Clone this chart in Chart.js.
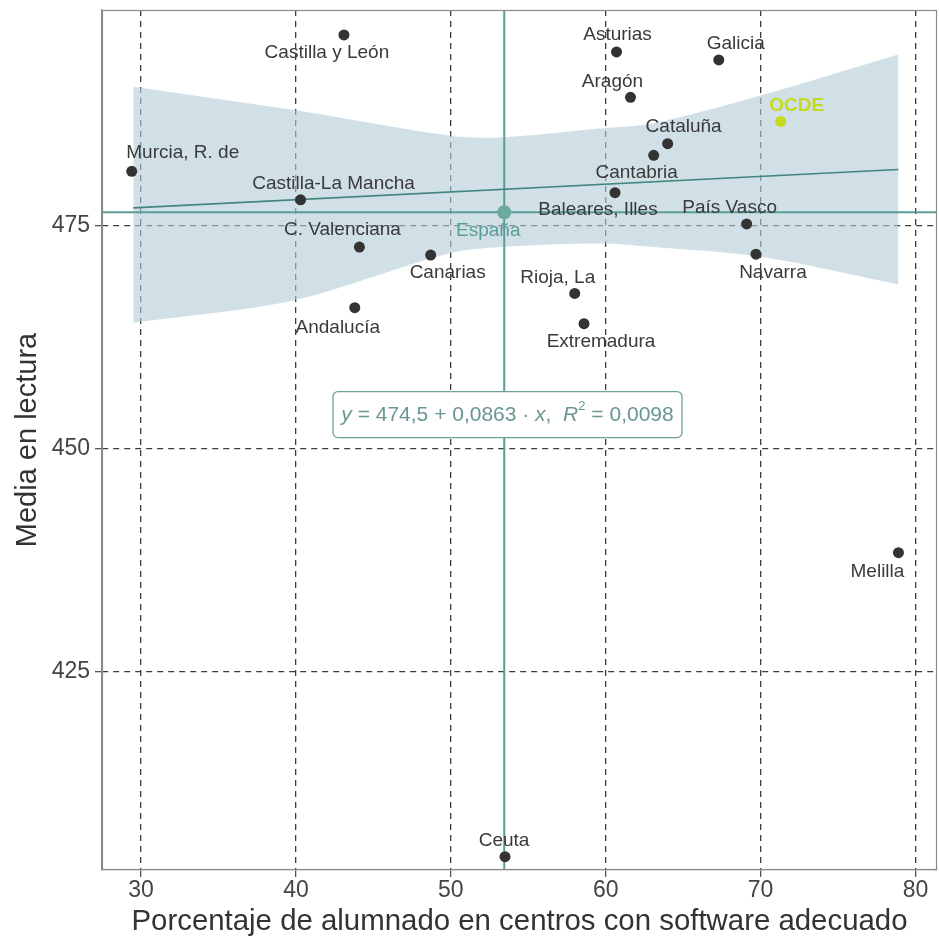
<!DOCTYPE html>
<html>
<head>
<meta charset="utf-8">
<script src="https://cdn.jsdelivr.net/npm/chart.js@4.4.1/dist/chart.umd.min.js"></script>
<style>
  html, body { margin:0; padding:0; background:#fff; }
  #wrap { width:939px; height:942px; }
</style>
</head>
<body>
<div id="wrap"><canvas id="chart" width="939" height="942"></canvas></div>
<script>
// regions of Spain: % of students in schools with adequate software vs mean reading score
const regions = ["Castilla y León","Asturias","Galicia","Aragón","Cataluña","Cantabria","Murcia, R. de",
  "Castilla-La Mancha","Baleares, Illes","País Vasco","C. Valenciana","Canarias","Navarra","Rioja, La",
  "Andalucía","Extremadura","Melilla","Ceuta"];
const softwarePct = [43.1, 60.7, 67.3, 61.6, 64.0, 63.1, 29.4, 40.3, 60.6, 69.1, 44.1, 48.7, 69.7, 58.0, 43.8, 58.6, 78.9, 53.5];
const readingMean = [496.4, 494.5, 493.6, 489.4, 484.2, 482.9, 481.1, 477.9, 478.7, 475.2, 472.6, 471.7, 471.8, 467.4, 465.8, 464.0, 438.3, 404.2];

const spainPoint = { name: "España", x: 53.45, y: 476.5 };
const oecdPoint = { name: "OCDE", x: 71.3, y: 486.7 };

// fitted line and its confidence band
const fitX = [29.5, 78.9];
const fitY = [477.0, 481.3];
const bandX = [29.5, 39.8, 49.9, 53.2, 59.6, 63.1, 70.0, 78.9];
const bandUpper = [490.6, 488.0, 485.1, 484.9, 485.9, 486.5, 489.6, 494.2];
const bandLower = [464.1, 466.6, 471.9, 472.6, 473.0, 472.6, 471.5, 468.4];

const xTicks = [30, 40, 50, 60, 70, 80];
const yTicks = [425, 450, 475];
const xRange = [27.48, 81.39];
const yRange = [402.7, 499.2];

const equationText = { intercept: "474,5", slope: "0,0863", r2: "0,0098" };

// label nudges in px (dx, dy) from each point
const labelNudge = [[-17,18],[1,-17],[17,-16],[-18,-16],[16,-17],[-17,18],[51,-19],
  [33,-16],[-17,17],[-17,-16],[-17,-17],[17,18],[17,19],[-17,-16],
  [-17,20],[17,18],[-21,19],[-1,-16]];

const TEAL = 'rgb(88,158,148)';
const FIT = 'rgb(66,134,128)';
const DARK = '#333333';
const OECD_COL = '#c5da1c';
const FONT = "'Liberation Sans', Arial, sans-serif";

function pts(xs, ys){ return xs.map((x,i) => ({x, y: ys[i]})); }
function noPad(s){ s.paddingTop = 0; s.paddingBottom = 0; s.paddingLeft = 0; s.paddingRight = 0; }

const framePlugin = {
  id: 'frame',
  afterDatasetsDraw(chart){
    const {ctx, chartArea: a} = chart;
    ctx.save();
    ctx.strokeStyle = '#8a8a8a';
    ctx.lineWidth = 1.2;
    ctx.strokeRect(a.left + 0.5, a.top + 0.5, a.right - a.left - 1, a.bottom - a.top - 1);
    ctx.restore();
  }
};

const labelPlugin = {
  id: 'pointLabels',
  afterDatasetsDraw(chart){
    const {ctx} = chart;
    const xs = chart.scales.x, ys = chart.scales.y;
    ctx.save();
    ctx.font = `19px ${FONT}`;
    ctx.textAlign = 'center';
    ctx.textBaseline = 'middle';
    regions.forEach((r,i) => {
      const px = xs.getPixelForValue(softwarePct[i]);
      const py = ys.getPixelForValue(readingMean[i]);
      ctx.fillStyle = '#3a3a3a';
      ctx.fillText(r, px + labelNudge[i][0], py + labelNudge[i][1]);
    });
    ctx.fillStyle = TEAL;
    ctx.fillText(spainPoint.name, xs.getPixelForValue(spainPoint.x) - 16, ys.getPixelForValue(spainPoint.y) + 18);
    ctx.font = `bold 19px ${FONT}`;
    ctx.fillStyle = OECD_COL;
    ctx.fillText(oecdPoint.name, xs.getPixelForValue(oecdPoint.x) + 16, ys.getPixelForValue(oecdPoint.y) - 16);
    ctx.restore();
  }
};

const equationPlugin = {
  id: 'equation',
  afterDatasetsDraw(chart){
    const {ctx} = chart;
    const cx = chart.scales.x.getPixelForValue(53.66);
    const cy = chart.scales.y.getPixelForValue(453.8);
    const parts = [
      {t: 'y', it: true}, {t: ' = ' + equationText.intercept + ' + ' + equationText.slope + ' \u00b7 '},
      {t: 'x', it: true}, {t: ',  '}, {t: 'R', it: true}, {t: '2', sup: true}, {t: ' = ' + equationText.r2}
    ];
    const size = 21;
    const fontFor = p => p.sup ? `13px ${FONT}` : `${p.it ? 'italic ' : ''}${size}px ${FONT}`;
    let w = 0;
    parts.forEach(p => { ctx.font = fontFor(p); p.w = ctx.measureText(p.t).width; w += p.w; });
    const bw = 349, bh = 46;
    ctx.save();
    ctx.beginPath();
    ctx.roundRect(cx - bw/2, cy - bh/2, bw, bh, 5);
    ctx.fillStyle = '#fff';
    ctx.fill();
    ctx.strokeStyle = 'rgb(110,160,155)';
    ctx.lineWidth = 1.3;
    ctx.stroke();
    ctx.fillStyle = 'rgb(105,150,148)';
    ctx.textBaseline = 'middle';
    ctx.textAlign = 'left';
    let x = cx - w/2;
    parts.forEach(p => {
      ctx.font = fontFor(p);
      ctx.fillText(p.t, x, p.sup ? cy - 8 : cy + 1);
      x += p.w;
    });
    ctx.restore();
  }
};

new Chart(document.getElementById('chart'), {
  type: 'scatter',
  data: {
    datasets: [
      { type: 'line', data: pts(bandX, bandUpper), borderWidth: 0, pointRadius: 0, fill: '+1',
        backgroundColor: 'rgba(176,203,214,0.6)', tension: 0.3, order: 10 },
      { type: 'line', data: pts(bandX, bandLower), borderWidth: 0, pointRadius: 0, fill: false, tension: 0.3, order: 10 },
      { type: 'line', data: pts(fitX, fitY), borderColor: FIT, borderWidth: 1.6, pointRadius: 0, fill: false, order: 5 },
      { type: 'line', data: pts([spainPoint.x, spainPoint.x], yRange), borderColor: TEAL, borderWidth: 2, pointRadius: 0, fill: false, order: 5 },
      { type: 'line', data: pts(xRange, [spainPoint.y, spainPoint.y]), borderColor: TEAL, borderWidth: 2, pointRadius: 0, fill: false, order: 5 },
      { data: pts(softwarePct, readingMean), backgroundColor: DARK, borderColor: DARK, pointRadius: 5.5, borderWidth: 0, order: 1 },
      { data: [{x: spainPoint.x, y: spainPoint.y}], backgroundColor: 'rgb(110,170,160)', pointRadius: 7, borderWidth: 0, order: 1 },
      { data: [{x: oecdPoint.x, y: oecdPoint.y}], backgroundColor: OECD_COL, pointRadius: 5.5, borderWidth: 0, order: 1 }
    ]
  },
  options: {
    responsive: false,
    animation: false,
    layout: { autoPadding: false, padding: { top: 10, right: 2, left: 0, bottom: 0 } },
    plugins: { legend: { display: false }, tooltip: { enabled: false } },
    scales: {
      x: {
        type: 'linear', min: xRange[0], max: xRange[1],
        afterBuildTicks: s => { s.ticks = xTicks.map(v => ({value: v})); },
        afterFit: s => { s.height = 72; noPad(s); },
        grid: { color: '#3c3c3c', lineWidth: 1.3, tickLength: 7, tickColor: '#555', tickWidth: 1.3 },
        border: { color: '#8a8a8a', width: 1.2, dash: [6, 5] },
        ticks: { color: '#444', font: { family: FONT, size: 23 }, padding: 0 },
        title: { display: true, text: 'Porcentaje de alumnado en centros con software adecuado',
          color: '#333', font: { family: FONT, size: 29.4, lineHeight: 1.2 }, padding: { top: 0, bottom: 2 } }
      },
      y: {
        type: 'linear', min: yRange[0], max: yRange[1],
        afterBuildTicks: s => { s.ticks = yTicks.map(v => ({value: v})); },
        afterFit: s => { s.width = 102; noPad(s); },
        grid: { color: '#3c3c3c', lineWidth: 1.3, tickLength: 7, tickColor: '#555', tickWidth: 1.3 },
        border: { color: '#8a8a8a', width: 1.2, dash: [6, 5] },
        ticks: { color: '#444', font: { family: FONT, size: 23 }, padding: 5 },
        title: { display: true, text: 'Media en lectura',
          color: '#333', font: { family: FONT, size: 29, lineHeight: 1.2 }, padding: { top: 11, bottom: 0 } }
      }
    }
  },
  plugins: [framePlugin, equationPlugin, labelPlugin]
});
</script>
</body>
</html>
